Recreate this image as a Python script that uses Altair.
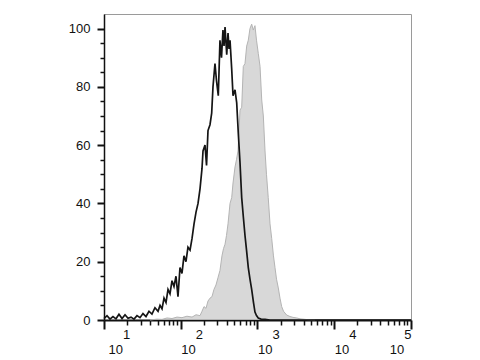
import altair as alt
import pandas as pd

# Black (unfilled) histogram: log10 fluorescence and % of max
black_log = [1.000, 1.039, 1.078, 1.117, 1.156, 1.195, 1.235, 1.274, 1.313, 1.352,
             1.391, 1.430, 1.469, 1.508, 1.547, 1.586, 1.625, 1.664, 1.704, 1.730,
             1.756, 1.782, 1.808, 1.834, 1.860, 1.886, 1.912, 1.938, 1.964, 1.990,
             2.016, 2.042, 2.068, 2.094, 2.121, 2.147, 2.173, 2.199, 2.225, 2.251,
             2.277, 2.290, 2.316, 2.336, 2.355, 2.381, 2.403, 2.420, 2.446, 2.466,
             2.489, 2.511, 2.531, 2.550, 2.564, 2.577, 2.599, 2.616, 2.629, 2.642,
             2.664, 2.681, 2.707, 2.729, 2.750, 2.772, 2.794, 2.815, 2.837, 2.857,
             2.880, 2.902, 2.924, 2.948, 2.967, 2.987, 3.010, 3.046, 3.098, 3.163,
             3.500, 4.000, 4.500, 5.000]
black_count = [0.5, 1.5, 0.3, 1.2, 0.4, 2.0, 0.5, 1.8, 0.6, 1.0,
               0.3, 1.5, 0.8, 2.2, 1.2, 3.0, 2.0, 4.2, 3.0, 5.0,
               3.8, 7.5, 6.0, 10.5, 9.0, 13.5, 11.5, 15.0, 8.0, 18.0,
               16.0, 22.0, 20.0, 25.0, 24.0, 28.0, 33.0, 37.0, 40.0, 45.0,
               52.0, 58.0, 60.0, 53.0, 65.0, 67.0, 71.0, 80.0, 88.0, 82.0,
               77.0, 96.0, 90.0, 99.5, 94.0, 100.5, 91.0, 98.5, 93.0, 96.0,
               86.0, 77.0, 79.0, 74.5, 64.0, 54.0, 42.0, 35.5, 29.0, 24.0,
               18.0, 14.0, 10.5, 6.0, 2.7, 1.5, 0.7, 0.3, 0.2, 0.0,
               0.0, 0.0, 0.0, 0.0]

# Grey (filled) histogram
grey_log = [1.599, 1.691, 1.756, 1.821, 1.886, 1.951, 2.016, 2.081, 2.147, 2.199,
            2.251, 2.277, 2.303, 2.329, 2.355, 2.381, 2.407, 2.433, 2.459, 2.485,
            2.511, 2.537, 2.557, 2.577, 2.596, 2.616, 2.642, 2.664, 2.681, 2.707,
            2.726, 2.746, 2.772, 2.794, 2.815, 2.837, 2.859, 2.880, 2.902, 2.924,
            2.945, 2.967, 2.987, 3.010, 3.033, 3.055, 3.076, 3.098, 3.117, 3.140,
            3.163, 3.185, 3.208, 3.228, 3.248, 3.271, 3.293, 3.315, 3.339, 3.380,
            3.423, 3.463, 3.511, 3.554, 3.593, 3.658, 3.749]
grey_count = [0.0, 0.3, 0.2, 0.7, 0.5, 1.0, 0.8, 1.3, 1.0, 1.8,
              1.5, 3.0, 4.6, 4.0, 6.5, 7.5, 8.0, 10.5, 12.0, 14.5,
              17.0, 22.0, 24.5, 26.0, 29.0, 33.0, 40.0, 42.0, 47.0, 52.5,
              55.0, 58.0, 72.0, 73.0, 87.0, 88.0, 94.0, 96.0, 100.0, 101.5,
              99.5, 101.0, 96.0, 91.5, 87.0, 75.5, 70.0, 58.0, 50.0, 42.0,
              33.0, 28.0, 22.0, 18.0, 14.0, 11.0, 7.5, 4.6, 3.0, 1.7,
              1.2, 0.9, 0.7, 0.4, 0.3, 0.1, 0.0]

x_major = [10, 100, 1000, 10000, 100000]
x_minor = [m * 10 ** k for k in range(1, 5) for m in range(2, 10)]
x_ticks = sorted(x_major + x_minor)
y_ticks = list(range(0, 101, 5))

black_df = pd.DataFrame({"fl": [10 ** e for e in black_log], "count": black_count})
grey_df = pd.DataFrame({"fl": [10 ** e for e in grey_log], "count": grey_count})

major_test = "indexof([10,100,1000,10000,100000], datum.value) >= 0"
zw = "\u200b"
nb = "\u00a0"
exp_str = "round(log(datum.value)/LN10)"
label_expr = (
    "datum.value == 100000 ? [" + exp_str + " + '', '10" + nb * 2 + zw + "'] : "
    + major_test + " ? ['" + zw + nb * 4 + "' + " + exp_str + ", '10'] : ''"
)

x_axis = alt.Axis(
    title="",
    values=x_ticks,
    grid=False,
    domainColor="#111111",
    domainWidth=2,
    tickColor="#111111",
    tickSize={"condition": {"test": major_test, "value": 9}, "value": 5},
    tickWidth={"condition": {"test": major_test, "value": 2}, "value": 1.5},
    labelExpr=label_expr,
    labelAlign={"condition": {"test": "datum.value == 100000", "value": "right"}, "value": "left"},
    labelOffset={"condition": {"test": "datum.value == 10", "value": 4}, "value": 0},
    labelFont="Liberation Sans",
    labelFontSize=13,
    labelColor="#111111",
    labelLineHeight=15,
    labelPadding=-1,
    labelFlush=False,
    labelOverlap=False,
)

y_axis = alt.Axis(
    title="",
    values=y_ticks,
    grid=False,
    domainColor="#111111",
    domainWidth=1.5,
    tickColor="#111111",
    tickSize={"condition": {"test": "datum.value % 20 == 0", "value": 7}, "value": 4},
    tickWidth={"condition": {"test": "datum.value % 20 == 0", "value": 2}, "value": 1.5},
    labelExpr="datum.value % 20 == 0 ? datum.label : ''",
    labelFont="Liberation Sans",
    labelFontSize=13,
    labelColor="#111111",
    labelPadding=7,
    labelOverlap=False,
)

x_enc = alt.X("fl:Q", scale=alt.Scale(type="log", domain=[10, 100000], nice=False), axis=x_axis)
y_enc = alt.Y("count:Q", scale=alt.Scale(domain=[0, 105], nice=False, zero=False), axis=y_axis)

grey = alt.Chart(grey_df).mark_area(
    color="#c8c8c8",
    line=alt.OverlayMarkDef(color="#b4b4b4", strokeWidth=1),
).encode(x=x_enc, y=y_enc)

black = alt.Chart(black_df).mark_line(color="#151515", strokeWidth=1.7).encode(x=x_enc, y=y_enc)

chart = alt.layer(grey, black).properties(
    width=307,
    height=306,
    autosize=alt.AutoSizeParams(type="none"),
    padding={"left": 104, "top": 14, "right": 69, "bottom": 40},
    background="white",
).configure_view(stroke="#9a9a9a", strokeWidth=1)

chart.save("out.html", embed_options={"renderer": "svg", "actions": False})
